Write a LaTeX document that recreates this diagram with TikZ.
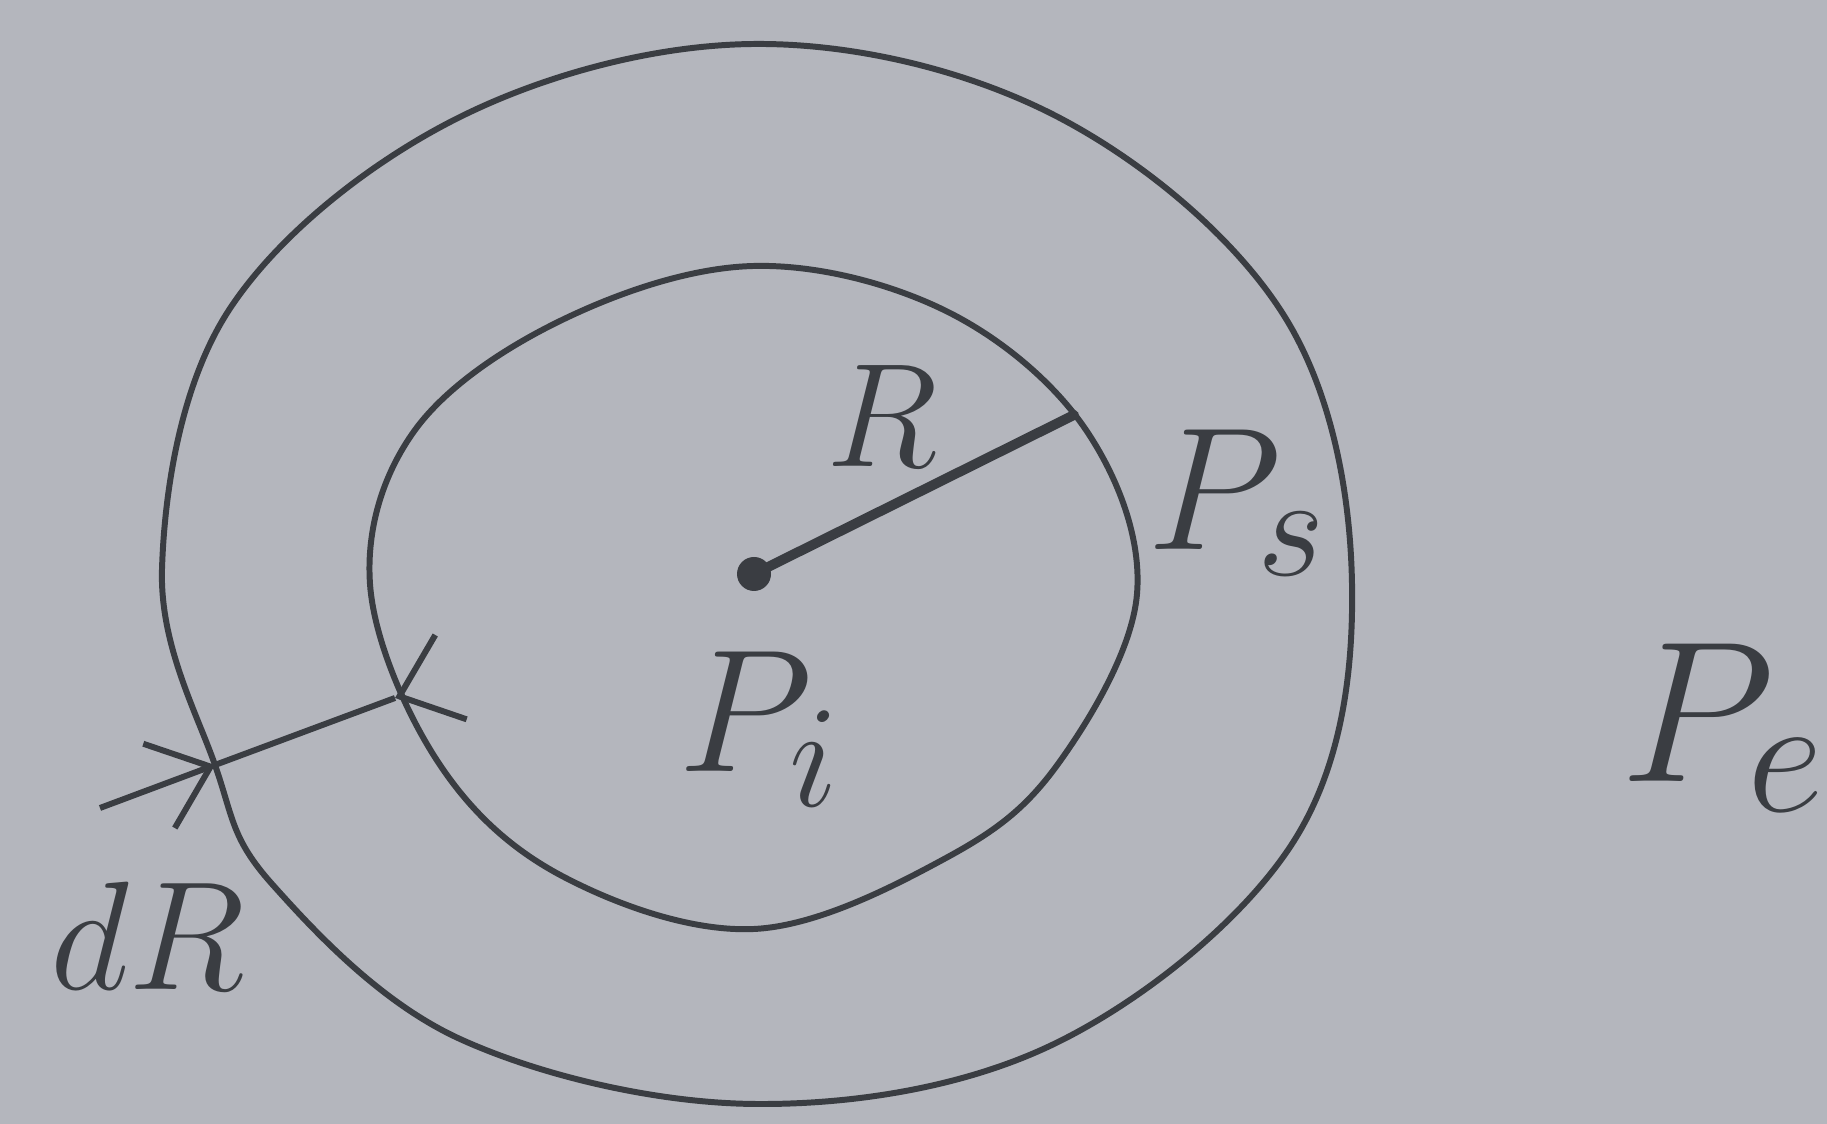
\documentclass[tikz,border=0pt]{standalone}
\usepackage{tikz}
\usetikzlibrary{arrows.meta, calc}
\definecolor{inkcol}{HTML}{3A3D42}
\definecolor{papercol}{HTML}{B4B6BD}

\begin{document}
\begin{tikzpicture}[>={Straight Barb[length=5.5mm,width=9mm]},lbl/.style={inkcol,inner sep=0pt,font=\Huge,scale=#1}]
\useasboundingbox (0,0) rectangle (18.27,11.24);
\clip (0,0) rectangle (18.27,11.24);
\fill[papercol] (0,0) rectangle (18.27,11.24);
\draw[inkcol,line width=1.7pt] plot[smooth cycle,tension=0.6] coordinates {(13.52,5.40) (12.83,8.10) (10.54,10.09) (7.55,10.80) (4.56,10.05) (2.29,8.14) (1.62,5.55) (2.15,3.59) (2.72,2.40) (4.60,0.85) (7.55,0.20) (10.54,0.80) (12.92,2.80)};
\draw[inkcol,line width=1.7pt] plot[smooth cycle,tension=0.6] coordinates {(11.37,5.30) (10.86,6.94) (9.46,8.13) (7.54,8.58) (5.62,8.04) (4.15,6.94) (3.70,5.40) (4.38,3.62) (5.62,2.48) (7.54,1.95) (9.46,2.66) (10.58,3.60)};
\coordinate (ctr) at (7.54,5.50);
\coordinate (rend) at (10.74,7.09);
\coordinate (dra) at (1.00,3.16);
\coordinate (dro) at (2.15,3.59);
\coordinate (dri) at (3.95,4.26);
\coordinate (drb) at ($(dri)!-1pt!(dro)$);
\draw[inkcol,line width=2.8pt,line cap=round] (ctr) -- (rend);
\fill[inkcol] (ctr) circle (0.17);
\draw[->,inkcol,line width=1.7pt] (dra) -- (dro);
\draw[inkcol,line width=1.7pt] (dro) -- (dri);
\draw[->,inkcol,line width=1.7pt] (drb) -- (dri);
\node[lbl=1.69] (lblR) at (8.82,7.08) {$R$};
\node[lbl=2.0] (lblPs) at (12.38,6.21) {$P_s$};
\node[lbl=2.0] (lblPi) at (7.60,3.95) {$P_i$};
\node[lbl=2.3] (lblPe) at (17.24,3.96) {$P_e$};
\node[lbl=1.77] (lbldR) at (1.48,1.88) {$dR$};
\end{tikzpicture}
\end{document}
